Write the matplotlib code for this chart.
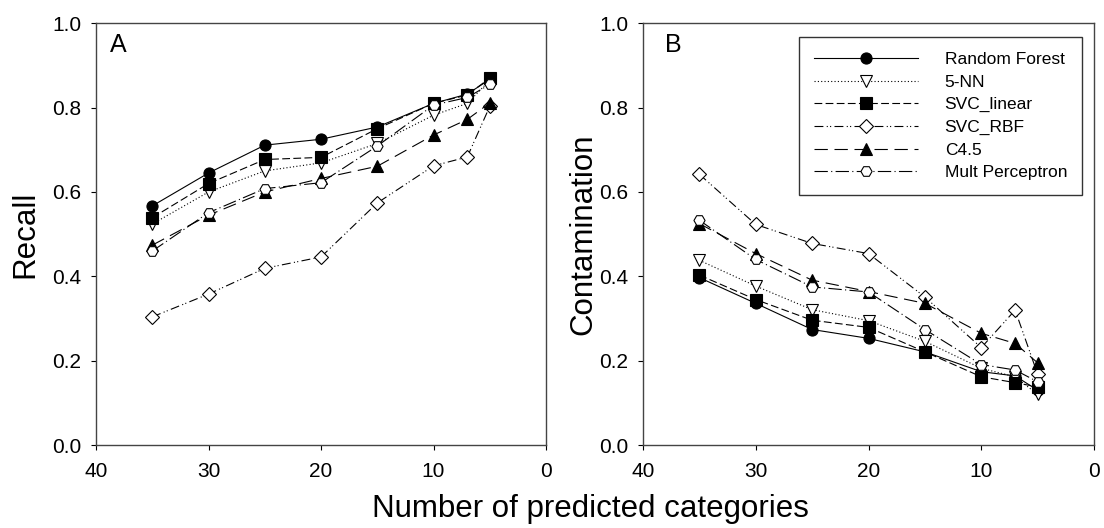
import numpy as np
import matplotlib.pyplot as plt

plt.rcParams['font.family'] = ['Liberation Sans', 'DejaVu Sans']

# number of predicted categories
n_cat = [35, 30, 25, 20, 15, 10, 7, 5]

models = ["Random Forest", "5-NN", "SVC_linear", "SVC_RBF", "C4.5", "Mult Perceptron"]

# panel A : recall
recall_rf = [0.567, 0.645, 0.711, 0.725, 0.754, 0.810, 0.832, 0.867]
recall_knn = [0.524, 0.600, 0.650, 0.669, 0.715, 0.782, 0.810, 0.865]
recall_lin = [0.539, 0.620, 0.677, 0.682, 0.750, 0.810, 0.830, 0.870]
recall_rbf = [0.304, 0.358, 0.419, 0.446, 0.574, 0.662, 0.683, 0.803]
recall_c45 = [0.474, 0.545, 0.600, 0.632, 0.661, 0.735, 0.772, 0.811]
recall_mlp = [0.460, 0.551, 0.608, 0.622, 0.709, 0.806, 0.824, 0.855]

# panel B : contamination
cont_rf = [0.397, 0.336, 0.274, 0.253, 0.221, 0.174, 0.164, 0.130]
cont_knn = [0.438, 0.377, 0.321, 0.295, 0.246, 0.182, 0.162, 0.120]
cont_lin = [0.403, 0.345, 0.296, 0.279, 0.221, 0.162, 0.148, 0.138]
cont_rbf = [0.642, 0.523, 0.478, 0.454, 0.351, 0.231, 0.320, 0.168]
cont_c45 = [0.525, 0.454, 0.391, 0.364, 0.336, 0.265, 0.241, 0.195]
cont_mlp = [0.533, 0.440, 0.375, 0.363, 0.274, 0.191, 0.178, 0.150]

recall = [recall_rf, recall_knn, recall_lin, recall_rbf, recall_c45, recall_mlp]
cont = [cont_rf, cont_knn, cont_lin, cont_rbf, cont_c45, cont_mlp]

styles = [
    dict(linestyle="-", marker="o", mfc="black"),
    dict(linestyle=(0, (1, 2)), marker="v", mfc="white"),
    dict(linestyle=(0, (7, 3)), marker="s", mfc="black"),
    dict(linestyle=(0, (8, 3, 1, 2, 1, 3)), marker="D", mfc="white", ms=7),
    dict(linestyle=(0, (12, 6)), marker="^", mfc="black"),
    dict(linestyle=(0, (12, 3, 1, 3)), marker="H", mfc="white"),
]

fig = plt.figure(figsize=(11.04, 5.28), dpi=100)
axA = fig.add_axes([0.087, 0.157, 0.4076, 0.799])
axB = fig.add_axes([0.5824, 0.157, 0.4086, 0.799])

panels = [(axA, recall, "Recall", "A", 0.031, 8.6), (axB, cont, "Contamination", "B", 0.049, 0.5)]
for ax, data, ylab, letter, lx, lpad in panels:
    for name, vals, st in zip(models, data, styles):
        st = dict(st)
        ms = st.pop("ms", 8)
        ax.plot(n_cat, vals, color="black", lw=0.8, mec="black", mew=0.8,
                ms=ms, label=name, **st)
    ax.set_xlim(40, 0)
    ax.set_ylim(0, 1.0)
    ax.set_xticks([40, 30, 20, 10, 0])
    ax.set_yticks(np.arange(0, 1.01, 0.2))
    ax.set_yticklabels(["%.1f" % v for v in np.arange(0, 1.01, 0.2)])
    ax.tick_params(direction="out", length=3.4, labelsize=15, width=0.8)
    ax.tick_params(axis="x", pad=8.5)
    ax.tick_params(axis="y", pad=7.3)
    for sp in ax.spines.values():
        sp.set_color("#444444")
        sp.set_linewidth(1.0)
    ax.set_ylabel(ylab, fontsize=22.5, labelpad=lpad)
    ax.text(lx, 0.976, letter, transform=ax.transAxes, fontsize=18, va="top")

leg = axB.legend(loc="upper right", bbox_to_anchor=(0.973, 0.967), fontsize=12.5,
                 handlelength=6.0, handletextpad=1.55, frameon=True, fancybox=False,
                 edgecolor="black", borderpad=0.85, labelspacing=0.43,
                 borderaxespad=0)
leg.get_frame().set_linewidth(1.0)

fig.text(0.535, 0.021, "Number of predicted categories", ha="center", va="baseline",
         fontsize=22.5)

fig.savefig("out.png", dpi=100)
